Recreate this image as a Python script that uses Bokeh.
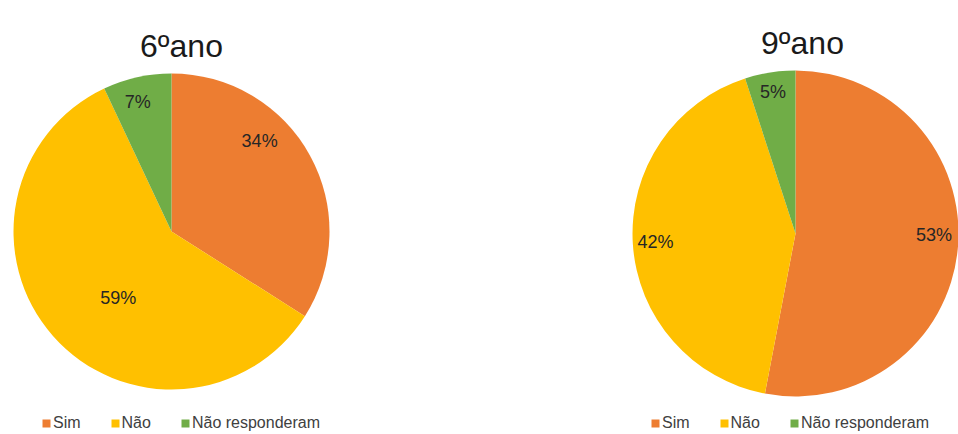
import numpy as np
from bokeh.plotting import figure
from bokeh.models import Range1d, ColumnDataSource, Legend, LegendItem
from bokeh.core.properties import value
from bokeh.embed import file_html
from bokeh.resources import INLINE

# ---- data ----
categories = ["Sim", "Não", "Não responderam"]
titles = ["6ºano", "9ºano"]
values_6 = [34, 59, 7]
values_9 = [53, 42, 5]
colors = ["#ED7D31", "#FFC000", "#70AD47"]

# ---- layout (screen pixels, y measured from the bottom) ----
W, H = 958, 434
FONT = "Liberation Sans"
layout = [
    dict(title=titles[0], vals=values_6, cx=171, cy=203, r=158,
         tx=181, ty=389, lx=41,
         lab_adj=[-17, -10, -2], lab_frac=[0.80, 0.54, 0.85]),
    dict(title=titles[1], vals=values_9, cx=795, cy=201, r=163,
         tx=802, ty=392, lx=650,
         lab_adj=[-4.6, 0, 0], lab_frac=[0.85, 0.86, 0.88]),
]

p = figure(width=W, height=H, x_range=Range1d(0, W), y_range=Range1d(0, H),
           output_backend="svg", toolbar_location=None, min_border=0)
p.axis.visible = False
p.grid.visible = False
p.outline_line_color = None
p.background_fill_color = "white"
p.border_fill_color = "white"

for pie in layout:
    vals = np.array(pie["vals"], dtype=float)
    frac = vals / vals.sum()
    cum = np.concatenate([[0.0], np.cumsum(frac)])
    start = np.pi / 2 - 2 * np.pi * cum[1:]
    end = np.pi / 2 - 2 * np.pi * cum[:-1]
    src = ColumnDataSource(dict(
        x=[pie["cx"]] * 3, y=[pie["cy"]] * 3, r=[pie["r"]] * 3,
        start=start, end=end, color=colors, cat=categories,
    ))
    rend = p.wedge(x="x", y="y", radius="r", start_angle="start", end_angle="end",
                   fill_color="color", line_color=None, source=src)

    # percentage labels
    mid = 360 * (cum[:-1] + cum[1:]) / 2 + np.array(pie["lab_adj"])
    th = np.deg2rad(mid)
    d = np.array(pie["lab_frac"]) * pie["r"]
    lsrc = ColumnDataSource(dict(
        x=pie["cx"] + d * np.sin(th), y=pie["cy"] + d * np.cos(th),
        t=[f"{v:.0f}%" for v in vals],
    ))
    p.text(x="x", y="y", text="t", source=lsrc, text_align="center",
           text_baseline="middle", text_font=value(FONT), text_font_size="18px",
           text_color="#262626")

    # title
    p.text(x=[pie["tx"]], y=[pie["ty"]], text=[pie["title"]], text_align="center",
           text_baseline="alphabetic", text_font=value(FONT), text_font_size="32px",
           text_color="#1a1a1a")

    legend = Legend(
        items=[LegendItem(label=categories[i], renderers=[rend], index=i) for i in range(3)],
        orientation="horizontal", location=(pie["lx"], 1),
        glyph_width=10, glyph_height=10, label_standoff=2, spacing=29,
        padding=0, margin=0, border_line_color=None, background_fill_alpha=0,
        label_text_font=FONT, label_text_font_size="16px", label_text_color="#404040",
        label_height=20,
    )
    p.add_layout(legend)

open("out.html", "w").write(file_html(p, INLINE))
